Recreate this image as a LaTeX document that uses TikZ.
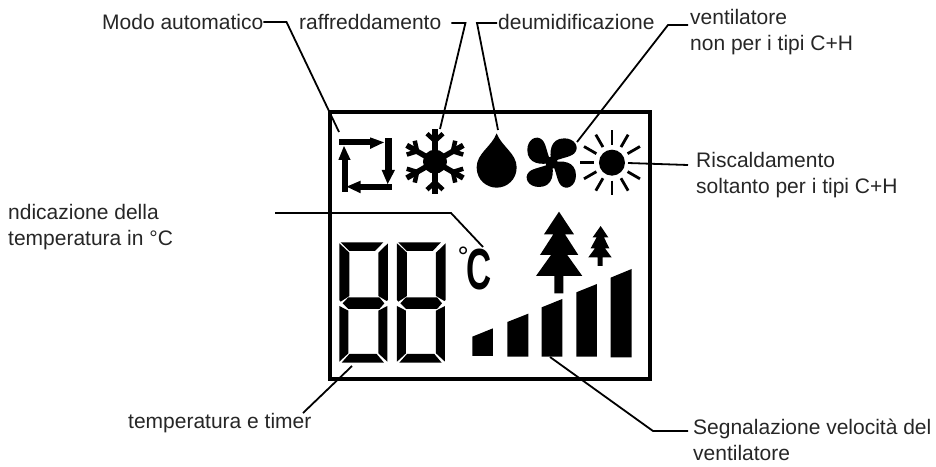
\documentclass[tikz,border=0pt]{standalone}
\usepackage{fontspec}
\setmainfont{Liberation Sans}
\tikzset{
  lab/.style={anchor=west,align=left,inner sep=0pt,font=\fontsize{21}{25.7}\selectfont,text=black!85},
  lead/.style={draw=black,line width=1.8pt,line join=miter},
  panel/.style={draw=black,line width=4pt,fill=none}
}
\newcommand{\digitglyph}{%
  \fill (62,127)--(190,127)--(165,153)--(88,153)--cycle;
  \fill (58,130)--(88,158)--(88,288)--(62,305)--(58,300)--cycle;
  \fill (204,130)--(175,158)--(175,288)--(200,303)--(204,300)--cycle;
  \fill (68,310)--(85,292)--(178,292)--(193,310)--(178,327)--(85,327)--cycle;
  \fill (58,318)--(85,332)--(85,460)--(58,485)--cycle;
  \fill (202,318)--(175,332)--(175,460)--(202,485)--cycle;
  \fill (88,462)--(170,462)--(192,488)--(65,488)--cycle;
}
\begin{document}
\begin{tikzpicture}[x=1pt,y=-1pt]
\useasboundingbox (0,0) rectangle (936,466);
\node[panel,minimum width=320pt,minimum height=267pt,inner sep=0pt,anchor=north west] (box) at (328,110) {};
% labels
\node[lab] (modo) at (102,22) {Modo automatico};
\node[lab] (raff) at (299,22) {raffreddamento};
\node[lab] (deum) at (498,22) {deumidificazione};
\node[lab] (vent) at (690,32) {ventilatore\\non per i tipi C+H};
\node[lab] (risc) at (696,175) {Riscaldamento\\soltanto per i tipi C+H};
\node[lab] (temp) at (8,227) {ndicazione della\\temperatura in °C};
\node[lab] (ttim) at (128,423) {temperatura e timer};
\node[lab] (segn) at (693,440) {Segnalazione velocità del\\ventilatore};
% icons
\begin{scope}[shift={(320,90)},x=0.3333pt,y=-0.3333pt]
  % cycle
  \fill (58,148) rectangle (150,166);
  \fill (150,142)--(192,157)--(150,177)--cycle;
  \fill (194,145) rectangle (215,240);
  \fill (185,240)--(225,240)--(203,282)--cycle;
  \fill (217,281) rectangle (120,300);
  \fill (122,272)--(80,290)--(122,310)--cycle;
  \fill (65,305) rectangle (85,210);
  \fill (55,210)--(92,210)--(72,168)--cycle;
  % snowflake
  \fill (345,215) circle (36);
  \foreach \a in {90,150,210,270,330,30}{
    \begin{scope}[shift={(345,215)},rotate=\a]
      \draw[line width=5.5pt] (0,0)--(98,0);
      \draw[line width=4.5pt] (62,0)--(84,-24) (62,0)--(84,24);
    \end{scope}}
  % drop
  \fill (530,130) .. controls (515,170) and (470,190) .. (470,232)
     .. controls (470,270) and (500,293) .. (530,293)
     .. controls (560,293) and (590,270) .. (590,232)
     .. controls (590,190) and (545,170) .. (530,130)--cycle;
  % fan
  \foreach \a in {0,90,180,270}{
    \begin{scope}[shift={(695,218)},rotate=\a]
      \fill (0,0) .. controls (-8,-30) and (-5,-73) .. (38,-73)
        .. controls (70,-73) and (85,-45) .. (68,-28)
        .. controls (55,-15) and (25,-15) .. (0,0) -- cycle;
    \end{scope}}
  \fill (695,218) circle (18);
  % sun
  \fill (876,218) circle (39);
  \foreach \a in {30,60,90,120,150,180,210,240,270,300,330}{
    \draw[line width=2.8pt] (876,218)+(\a:54)--+(\a:97);
  }
\end{scope}
\begin{scope}[shift={(320,200)},x=0.3333pt,y=-0.3333pt]
  \digitglyph
  \begin{scope}[xshift=173*0.3333pt]\digitglyph\end{scope}
  % trees
  \fill (717,35)--(762,103)--(735,103)--(775,165)--(742,165)--(787,228)--(730,228)--(730,280)--(703,280)--(703,228)--(648,228)--(693,165)--(660,165)--(700,103)--(672,103)--cycle;
  \fill (842,78)--(865,112)--(852,112)--(868,145)--(855,145)--(875,172)--(848,172)--(848,198)--(833,198)--(833,172)--(805,172)--(825,145)--(812,145)--(830,112)--(818,112)--cycle;
  % bars
  \fill (457,410)--(519,385)--(519,468)--(457,468)--cycle;
  \fill (562,366)--(625,341)--(625,470)--(562,470)--cycle;
  \fill (665,322)--(727,297)--(727,470)--(665,470)--cycle;
  \fill (769,277)--(831,252)--(831,470)--(769,470)--cycle;
  \fill (872,233)--(935,207)--(935,472)--(872,472)--cycle;
\end{scope}
\node[anchor=base west,inner sep=0pt] (deg) at (457.4,289) {\raisebox{23pt}{\fontsize{28}{28}\selectfont °}\kern-2.6pt\scalebox{0.6}[1]{\fontsize{58}{58}\selectfont\bfseries C}};
% targets
\coordinate (tAuto) at (339,132);
\coordinate (tSnow) at (440,129);
\coordinate (tDrop) at (498,130);
\coordinate (tFan) at (577,142);
\coordinate (tSun) at (628,163);
\coordinate (tDeg) at (483,247);
\coordinate (tDig) at (352,366);
\coordinate (tBar) at (550,357);
\draw[lead] (modo.east) -- ++(23,0) -- (tAuto);
\draw[lead] (raff.east) ++(10,1) -- ++(14,0) -- (tSnow);
\draw[lead] (deum.west) ++(-1,1) -- ++(-20,0) -- (tDrop);
\draw[lead] (688,25) -- (668,25) -- (tFan);
\draw[lead] (688,165) -- (tSun);
\draw[lead] (275,213) -- (451,213) -- (tDeg);
\draw[lead] (303,413) -- (tDig);
\draw[lead] (688,431) -- (653,431) -- (tBar);
\end{tikzpicture}
\end{document}
